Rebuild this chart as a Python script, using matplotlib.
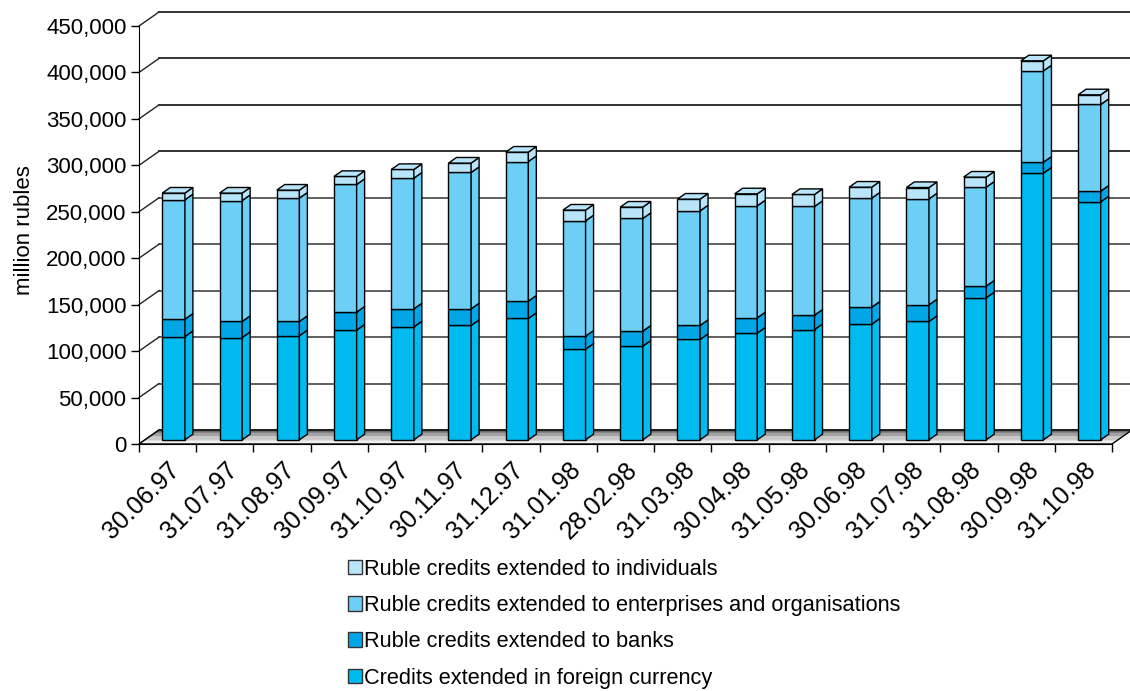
import matplotlib
matplotlib.use("Agg")
import matplotlib.pyplot as plt
from matplotlib.patches import Polygon, Patch
import numpy as np

plt.rcParams['font.family'] = ['Liberation Sans', 'DejaVu Sans']

# values, million rubles
dates = ['30.06.97', '31.07.97', '31.08.97', '30.09.97', '31.10.97', '30.11.97',
         '31.12.97', '31.01.98', '28.02.98', '31.03.98', '30.04.98', '31.05.98',
         '30.06.98', '31.07.98', '31.08.98', '30.09.98', '31.10.98']
foreign = [111200, 110100, 112000, 118100, 121600, 123100, 130600, 97600, 100900,
           108000, 114900, 118700, 124500, 127400, 152900, 287100, 256200]
banks = [18700, 17300, 15400, 19400, 19400, 17900, 18700, 14000, 16100,
         15100, 16400, 15500, 18300, 17900, 12600, 11800, 11500]
enterprises = [128500, 130200, 132800, 137400, 140700, 146800, 150300, 124200, 121300,
               123400, 120600, 117000, 117400, 114100, 106500, 98300, 93300]
individuals = [7200, 8000, 8600, 8600, 9300, 10100, 10100, 11500, 12200,
               12600, 12900, 12900, 11800, 12200, 10800, 10800, 10400]

series = [
    ('Credits extended in foreign currency', foreign, '#00bbef'),
    ('Ruble credits extended to banks', banks, '#00a6e6'),
    ('Ruble credits extended to enterprises and organisations', enterprises, '#6dcff6'),
    ('Ruble credits extended to individuals', individuals, '#b8e5f9'),
]

n = len(dates)
x = np.arange(n)
yticks = np.arange(0, 450001, 50000)

# fake 3D depth (in data units)
DX = 0.349
DY = 15070
front = 0.3
deep = 0.4
bw = 0.395

fig = plt.figure(figsize=(11.3, 6.91), dpi=100)
ax = fig.add_axes([139 / 1130, 247 / 691, 993 / 1130, 432 / 691])
ax.set_xlim(-0.5, 16.5 + DX)
ax.set_ylim(0, 450000 + DY)

# floor
bands = [(0.0, 0.25, '#efefef'), (0.25, 0.55, '#c9c9c9'),
         (0.55, 0.8, '#a2a2a2'), (0.8, 1.0, '#6b6b6b')]
for d0, d1, c in bands:
    ax.add_patch(Polygon([(-0.5 + d0 * DX, d0 * DY), (16.5 + d0 * DX, d0 * DY),
                          (16.5 + d1 * DX, d1 * DY), (-0.5 + d1 * DX, d1 * DY)],
                         closed=True, facecolor=c, edgecolor='none', zorder=1))
ax.add_patch(Polygon([(-0.5, 0), (16.5, 0), (16.5 + DX, DY), (-0.5 + DX, DY)],
                     closed=True, fill=False, edgecolor='black', lw=1.0, zorder=1.5))

# back wall gridlines and diagonals
for v in yticks:
    gc = '#111111' if v >= 300000 else '#444444'
    ax.plot([-0.5 + DX, 16.5 + DX], [v + DY, v + DY], color=gc, lw=1.2, zorder=0.5,
            clip_on=False)
    ax.plot([-0.5, -0.5 + DX], [v, v + DY], color='#222222', lw=1.0, zorder=0.5,
            clip_on=False)

# stacked bars with side and top faces
bottom = np.zeros(n)
xf = x + front * DX
yb = front * DY
for k, (name, vals, col) in enumerate(series):
    vals = np.array(vals, dtype=float)
    ax.bar(xf, vals, bottom=bottom + yb, width=bw, color=col, edgecolor='black',
           lw=1.0, zorder=3)
    for i in range(n):
        xr = xf[i] + bw / 2
        b = bottom[i] + yb
        t = b + vals[i]
        ax.add_patch(Polygon([(xr, b), (xr + deep * DX, b + deep * DY),
                              (xr + deep * DX, t + deep * DY), (xr, t)],
                             closed=True, facecolor=col, edgecolor='black', lw=1.0, zorder=3))
        if k == len(series) - 1:
            xl = xf[i] - bw / 2
            ax.add_patch(Polygon([(xl, t), (xr, t), (xr + deep * DX, t + deep * DY),
                                  (xl + deep * DX, t + deep * DY)],
                                 closed=True, facecolor=col, edgecolor='black', lw=1.0,
                                 zorder=3))
    bottom = bottom + vals

# axes
for s in ['top', 'right']:
    ax.spines[s].set_visible(False)
ax.spines['left'].set_bounds(0, 450000)
ax.spines['bottom'].set_bounds(-0.5, 16.5)
ax.spines['left'].set_zorder(4)
ax.spines['bottom'].set_zorder(4)
ax.set_yticks(yticks)
ax.set_yticklabels([f'{v:,}' for v in yticks])
ax.tick_params(axis='y', length=6, width=1, pad=3, labelsize=16)
ax.set_xticks(np.arange(-0.5, 16.6, 1.0))
ax.set_xticklabels([])
ax.tick_params(axis='x', which='major', length=6, width=1)
ax.set_xticks(x, minor=True)
ax.set_xticklabels(dates, minor=True, rotation=45, ha='right', rotation_mode='anchor',
                   fontsize=18)
ax.tick_params(axis='x', which='minor', length=0, pad=10)
ax.set_ylabel('million rubles', fontsize=16)
ax.yaxis.set_label_coords(-0.105, 0.495)

handles = [Patch(facecolor=c, edgecolor='#333333', label=nm) for nm, _, c in series[::-1]]
fig.legend(handles=handles, loc='upper left', bbox_to_anchor=(339 / 1130, 1 - 550 / 691),
           frameon=False, fontsize=15.7, handlelength=0.66, handleheight=0.66,
           handletextpad=0.1, labelspacing=0.7, borderaxespad=0)

fig.savefig('out.png', dpi=100)
